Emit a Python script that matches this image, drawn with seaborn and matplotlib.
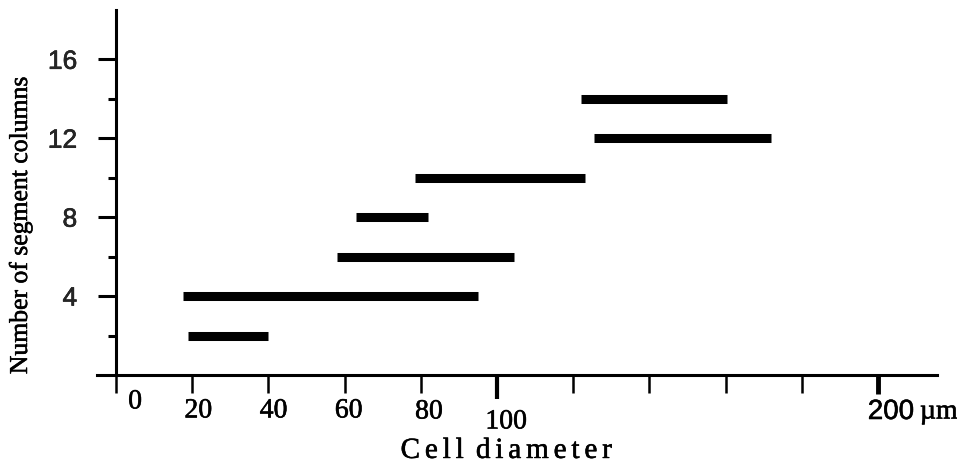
import matplotlib
matplotlib.use("Agg")
import matplotlib.pyplot as plt
import matplotlib.transforms as mtransforms
import matplotlib.patheffects as pe
import seaborn as sns
import pandas as pd

# number of segment columns and the cell diameter range (um) where it occurs
columns = [2, 4, 6, 8, 10, 12, 14]
diam_min = [19, 17.5, 58, 63, 78.5, 125.5, 122]
diam_max = [40, 95, 104.5, 82, 123, 172, 160.5]

xticks = [0, 20, 40, 60, 80, 100, 120, 140, 160, 180, 200]
xtick_labels = ["0", "20", "40", "60", "80", "100", "", "", "", "", "200"]
# hand placed labels in the original: nudge from tick (pixels right, pixels below axis)
xlabel_dx = [19, 6, 5, 4, 8, 9, 0, 0, 0, 0, 13]
xlabel_dy = [27, 36, 36, 36, 37, 47, 0, 0, 0, 0, 37]
yticks = [4, 8, 12, 16]
yticks_minor = [2, 6, 10, 14]

sns.set_theme(style="white")
plt.rcParams["font.family"] = ["Liberation Serif", "DejaVu Serif"]
SERIF = ["Liberation Serif", "DejaVu Serif"]
SANS = ["Liberation Sans", "DejaVu Sans"]
# scanned print looks a little heavier than the plain fonts
INK = [pe.withStroke(linewidth=0.4, foreground="black")]

rows = []
for i, (c, a, b) in enumerate(zip(columns, diam_min, diam_max)):
    rows.append({"seg": i, "diameter": a, "columns": c})
    rows.append({"seg": i, "diameter": b, "columns": c})
df = pd.DataFrame(rows)

fig = plt.figure(figsize=(9.57, 4.68), dpi=100)
ax = fig.add_axes([97 / 957, 93 / 468, 840 / 957, 365 / 468])

sns.lineplot(data=df, x="diameter", y="columns", units="seg", estimator=None,
             sort=False, color="black", lw=6.5, solid_capstyle="butt",
             legend=False, ax=ax)

ax.set_xlim(-5, 215.5)
ax.set_ylim(0, 18.5)

for s in ["top", "right"]:
    ax.spines[s].set_visible(False)
ax.spines["left"].set_position(("data", 0))
for s in ["left", "bottom"]:
    ax.spines[s].set_color("black")
    ax.spines[s].set_linewidth(2.2)

# y axis
ax.set_yticks(yticks)
ax.set_yticks(yticks_minor, minor=True)
ax.tick_params(axis="y", which="major", direction="out", length=13, width=2.2,
               color="black", labelsize=19, pad=15, left=True)
ax.tick_params(axis="y", which="minor", direction="out", length=6, width=2.2,
               color="black", left=True)
for lbl in ax.get_yticklabels():
    lbl.set_fontfamily(SANS)
    lbl.set_path_effects(INK)

# x axis
ax.set_xticks(xticks, [""] * len(xticks))
ax.tick_params(axis="x", which="major", direction="out", length=13, width=1.8,
               color="black", bottom=True)
xt = ax.xaxis.get_major_ticks()
xt[5].tick1line.set_markeredgewidth(3)
xt[5].tick1line.set_markersize(17)
xt[10].tick1line.set_markeredgewidth(3.5)
xt[10].tick1line.set_markersize(14)

base = mtransforms.blended_transform_factory(ax.transData, ax.transAxes)
for x, lab, dx, dy in zip(xticks, xtick_labels, xlabel_dx, xlabel_dy):
    if not lab:
        continue
    tr = mtransforms.offset_copy(base, fig=fig, x=dx, y=-dy, units="dots")
    fam = SANS if lab == "200" else SERIF
    ax.text(x, 0, lab, transform=tr, ha="center", va="center",
            fontsize=20, family=fam, color="black", path_effects=INK)
tr = mtransforms.offset_copy(base, fig=fig, x=42, y=-37, units="dots")
ax.text(xticks[-1], 0, "\u00b5m", transform=tr, ha="left", va="center",
        fontsize=20, family=SERIF, color="black", path_effects=INK)

ax.set_xlabel("")
ax.set_ylabel("")
sp = "\u2006"
xlab = sp.join("Cell") + sp + " " + sp.join("diameter")
ax.text(0.487, -0.208, xlab, transform=ax.transAxes,
        ha="center", va="center", fontsize=21, family=SERIF, color="black",
        path_effects=INK)
ax.text(-0.0774, 0.411, "Number of segment columns", transform=ax.transAxes,
        ha="center", va="bottom", rotation=90, rotation_mode="anchor",
        fontsize=18.5, family=SERIF, color="black", path_effects=INK)

fig.savefig("out.png", dpi=100, facecolor="white")
